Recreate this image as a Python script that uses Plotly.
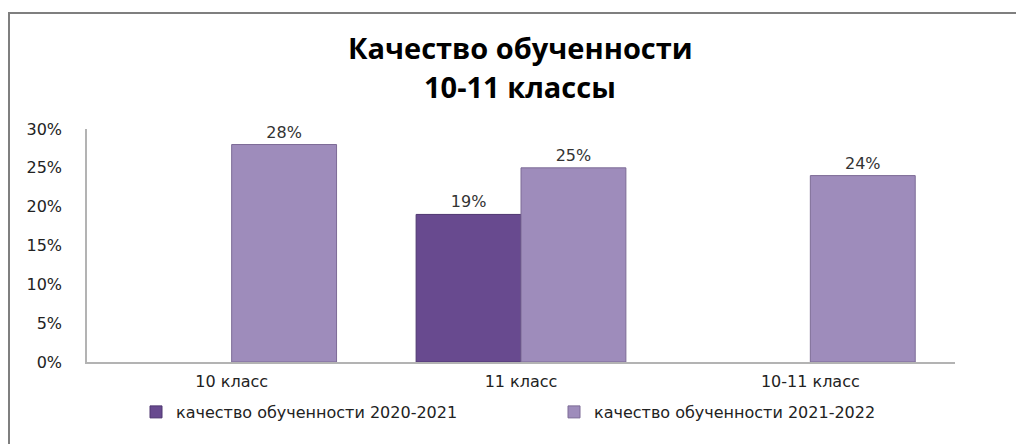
import plotly.graph_objects as go

categories = ["10 класс", "11 класс", "10-11 класс"]
series_names = ["качество обученности 2020-2021", "качество обученности 2021-2022"]
values_2020_2021 = [None, 0.19, None]
values_2021_2022 = [0.28, 0.25, 0.24]
title_lines = ["Качество обученности", "10-11 классы"]
y_ticks = [0, 0.05, 0.10, 0.15, 0.20, 0.25, 0.30]

FONT = "DejaVu Sans"
TFONT = "Open Sans"
FS = 16
W, H = 1016, 444
L, R, T, B = 87, 955, 129, 362

fig = go.Figure()
fig.add_trace(go.Bar(
    x=categories, y=values_2020_2021, name=series_names[0],
    marker=dict(color="#684a8f", line=dict(color="#4e3670", width=1)),
    text=[None if v is None else f"{round(v*100)}%" for v in values_2020_2021],
    textposition="outside", cliponaxis=False,
    textfont=dict(family=FONT, size=FS, color="#333333"),
))
fig.add_trace(go.Bar(
    x=categories, y=values_2021_2022, name=series_names[1],
    marker=dict(color="#9e8cbb", line=dict(color="#7c6b96", width=1)),
    text=[f"{round(v*100)}%" for v in values_2021_2022],
    textposition="outside", cliponaxis=False,
    textfont=dict(family=FONT, size=FS, color="#333333"),
))

pw = R - L
ph = B - T
def px_x(x):
    return (x - L) / pw
def px_y(y):
    return (B - y) / ph

fig.update_layout(
    width=W, height=H,
    margin=dict(l=L, r=W - R, t=T, b=H - B, autoexpand=False),
    paper_bgcolor="white", plot_bgcolor="white",
    barmode="group", bargap=0.275, bargroupgap=0,
    showlegend=True,
    legend=dict(orientation="h", x=px_x(136), xanchor="left", y=px_y(412), yanchor="middle",
                font=dict(family=FONT, size=FS, color="#222222"),
                itemwidth=30, entrywidth=373, entrywidthmode="pixels",
                traceorder="normal"),
    font=dict(family=FONT, size=FS, color="#222222"),
    xaxis=dict(showline=True, linecolor="#b3b3b3", linewidth=1.5, ticks="",
               ticklabelstandoff=4,
               tickfont=dict(family=FONT, size=FS, color="#222222")),
    yaxis=dict(range=[0, 0.30], tickvals=y_ticks, tickformat=".0%", showgrid=False,
               showline=True, linecolor="#b3b3b3", linewidth=1.5, ticks="",
               zeroline=False, ticklabelstandoff=20,
               tickfont=dict(family=FONT, size=FS, color="#222222")),
    shapes=[dict(type="rect", xref="paper", yref="paper",
                 x0=px_x(9), x1=px_x(1030), y0=px_y(460), y1=px_y(13),
                 line=dict(color="#7f7f7f", width=2), fillcolor="rgba(0,0,0,0)", layer="below")],
    annotations=[
        dict(text=f"<b>{title_lines[0]}</b>", xref="paper", yref="paper", x=px_x(520), y=px_y(47),
             xanchor="center", yanchor="middle", showarrow=False,
             font=dict(family=TFONT, size=29, color="#000000")),
        dict(text=f"<b>{title_lines[1]}</b>", xref="paper", yref="paper", x=px_x(520), y=px_y(87),
             xanchor="center", yanchor="middle", showarrow=False,
             font=dict(family=TFONT, size=29, color="#000000")),
    ],
)

fig.write_html("out.html", config={"displayModeBar": False},
               post_script="document.body.style.margin='0px';document.body.style.padding='0px';")
